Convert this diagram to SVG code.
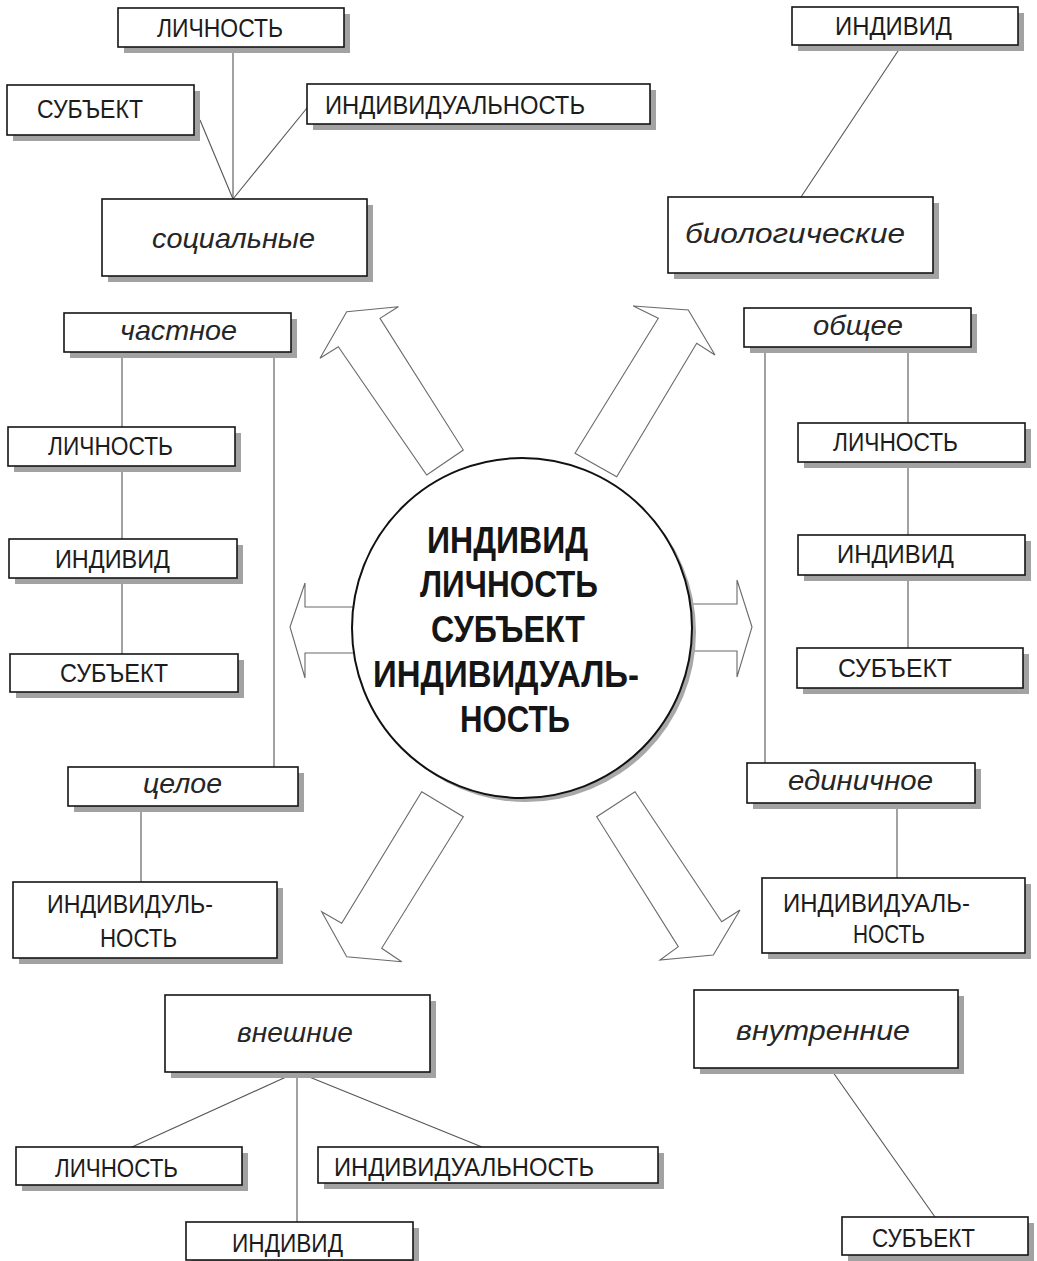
<svg xmlns="http://www.w3.org/2000/svg" width="1037" height="1261" viewBox="0 0 1037 1261">
<style>
.bg{fill:#fff}
.box{fill:#fff;stroke:#141414;stroke-width:1.6}
.sh{fill:#a2a2a2}
.ln{stroke:#555;stroke-width:1.1;fill:none}
.arr{fill:#fff;stroke:#6a6a6a;stroke-width:1.1;stroke-linejoin:miter}
.t{font-family:"Liberation Sans",Arial,sans-serif;font-size:26px;fill:#1c1c1c}
.it{font-family:"Liberation Sans",Arial,sans-serif;font-style:italic;font-size:28px;fill:#262626}
.big{font-family:"Liberation Sans",Arial,sans-serif;font-weight:bold;font-size:37px;fill:#151515}
</style>
<rect class="bg" x="0" y="0" width="1037" height="1261"/>

<g id="connectors">
  <line class="ln" x1="233" y1="47" x2="233" y2="199"/>
  <line class="ln" x1="200" y1="120" x2="233" y2="199"/>
  <line class="ln" x1="307" y1="108" x2="233" y2="199"/>
  <line class="ln" x1="902" y1="45" x2="801" y2="197"/>
  <line class="ln" x1="122" y1="352" x2="122" y2="654"/>
  <line class="ln" x1="274" y1="352" x2="274" y2="767"/>
  <line class="ln" x1="141" y1="806" x2="141" y2="882"/>
  <line class="ln" x1="908" y1="347" x2="908" y2="648"/>
  <line class="ln" x1="765" y1="347" x2="765" y2="763"/>
  <line class="ln" x1="897" y1="803" x2="897" y2="878"/>
  <line class="ln" x1="297" y1="1072" x2="132" y2="1147"/>
  <line class="ln" x1="297" y1="1072" x2="297" y2="1222"/>
  <line class="ln" x1="297" y1="1072" x2="482" y2="1147"/>
  <line class="ln" x1="830" y1="1068" x2="935" y2="1217"/>
</g>

<g id="arrows">
  <polygon class="arr" points="346.7,311.7 398.3,306.7 380,318.3 463.3,450 426.7,475 338.3,346.7 320,358.3"/>
  <polygon class="arr" points="633.3,306 688.3,310 715,355 696.7,343.3 616.7,476.7 575,453.3 658.3,318.3"/>
  <polygon class="arr" points="290,627 305,583 305,607 370,607 370,653 305,653 305,678"/>
  <polygon class="arr" points="752,627 737,580 737,604 680,604 680,651 737,651 737,677"/>
  <polygon class="arr" points="421.7,791.7 463.3,816.7 381.7,948.3 401.7,961.7 346.7,956.7 321.7,911.7 341.7,923.3"/>
  <polygon class="arr" points="635,791.7 721.7,921.7 740,910 713.3,955 660,960 678.3,946.7 596.7,816.7"/>
</g>

<g id="center">
  <circle cx="526" cy="632" r="170" fill="#a8a8a8"/>
  <circle cx="522" cy="628" r="170" fill="#fff" stroke="#111" stroke-width="2"/>
  <text class="big" x="427" y="553" textLength="161" lengthAdjust="spacingAndGlyphs">ИНДИВИД</text>
  <text class="big" x="420" y="597" textLength="178" lengthAdjust="spacingAndGlyphs">ЛИЧНОСТЬ</text>
  <text class="big" x="431" y="642" textLength="154" lengthAdjust="spacingAndGlyphs">СУБЪЕКТ</text>
  <text class="big" x="373" y="687" textLength="266" lengthAdjust="spacingAndGlyphs">ИНДИВИДУАЛЬ-</text>
  <text class="big" x="460" y="732" textLength="110" lengthAdjust="spacingAndGlyphs">НОСТЬ</text>
</g>

<g id="n-tl-lichnost">
  <rect class="sh" x="124" y="14" width="226" height="39"/>
  <rect class="box" x="118" y="8" width="226" height="39"/>
  <text class="t" x="157" y="37" textLength="126" lengthAdjust="spacingAndGlyphs">ЛИЧНОСТЬ</text>
</g>
<g id="n-tl-subekt">
  <rect class="sh" x="13" y="91" width="187" height="50"/>
  <rect class="box" x="7" y="85" width="187" height="50"/>
  <text class="t" x="37" y="118" textLength="106" lengthAdjust="spacingAndGlyphs">СУБЪЕКТ</text>
</g>
<g id="n-tl-individualnost">
  <rect class="sh" x="313" y="90" width="343" height="40"/>
  <rect class="box" x="307" y="84" width="343" height="40"/>
  <text class="t" x="325" y="114" textLength="260" lengthAdjust="spacingAndGlyphs">ИНДИВИДУАЛЬНОСТЬ</text>
</g>
<g id="n-socialnye">
  <rect class="sh" x="108" y="205" width="265" height="77"/>
  <rect class="box" x="102" y="199" width="265" height="77"/>
  <text class="it" x="152" y="248" textLength="163" lengthAdjust="spacingAndGlyphs">социальные</text>
</g>

<g id="n-tr-individ">
  <rect class="sh" x="798" y="13" width="226" height="38"/>
  <rect class="box" x="792" y="7" width="226" height="38"/>
  <text class="t" x="835" y="35" textLength="117" lengthAdjust="spacingAndGlyphs">ИНДИВИД</text>
</g>
<g id="n-biologicheskie">
  <rect class="sh" x="674" y="203" width="265" height="76"/>
  <rect class="box" x="668" y="197" width="265" height="76"/>
  <text class="it" x="685" y="243" textLength="220" lengthAdjust="spacingAndGlyphs">биологические</text>
</g>

<g id="n-chastnoe">
  <rect class="sh" x="70" y="319" width="227" height="39"/>
  <rect class="box" x="64" y="313" width="227" height="39"/>
  <text class="it" x="120" y="340" textLength="117" lengthAdjust="spacingAndGlyphs">частное</text>
</g>
<g id="n-l-lichnost">
  <rect class="sh" x="14" y="433" width="227" height="39"/>
  <rect class="box" x="8" y="427" width="227" height="39"/>
  <text class="t" x="48" y="455" textLength="125" lengthAdjust="spacingAndGlyphs">ЛИЧНОСТЬ</text>
</g>
<g id="n-l-individ">
  <rect class="sh" x="15" y="545" width="228" height="39"/>
  <rect class="box" x="9" y="539" width="228" height="39"/>
  <text class="t" x="55" y="568" textLength="115" lengthAdjust="spacingAndGlyphs">ИНДИВИД</text>
</g>
<g id="n-l-subekt">
  <rect class="sh" x="16" y="660" width="228" height="38"/>
  <rect class="box" x="10" y="654" width="228" height="38"/>
  <text class="t" x="60" y="682" textLength="108" lengthAdjust="spacingAndGlyphs">СУБЪЕКТ</text>
</g>
<g id="n-tseloe">
  <rect class="sh" x="74" y="773" width="230" height="39"/>
  <rect class="box" x="68" y="767" width="230" height="39"/>
  <text class="it" x="143" y="793" textLength="79" lengthAdjust="spacingAndGlyphs">целое</text>
</g>
<g id="n-l-individualnost">
  <rect class="sh" x="19" y="888" width="264" height="76"/>
  <rect class="box" x="13" y="882" width="264" height="76"/>
  <text class="t" x="47" y="913" textLength="166" lengthAdjust="spacingAndGlyphs">ИНДИВИДУЛЬ-</text>
  <text class="t" x="100" y="947" textLength="77" lengthAdjust="spacingAndGlyphs">НОСТЬ</text>
</g>

<g id="n-obshchee">
  <rect class="sh" x="750" y="314" width="227" height="39"/>
  <rect class="box" x="744" y="308" width="227" height="39"/>
  <text class="it" x="813" y="335" textLength="90" lengthAdjust="spacingAndGlyphs">общее</text>
</g>
<g id="n-r-lichnost">
  <rect class="sh" x="804" y="429" width="227" height="39"/>
  <rect class="box" x="798" y="423" width="227" height="39"/>
  <text class="t" x="833" y="451" textLength="125" lengthAdjust="spacingAndGlyphs">ЛИЧНОСТЬ</text>
</g>
<g id="n-r-individ">
  <rect class="sh" x="804" y="541" width="227" height="40"/>
  <rect class="box" x="798" y="535" width="227" height="40"/>
  <text class="t" x="837" y="563" textLength="117" lengthAdjust="spacingAndGlyphs">ИНДИВИД</text>
</g>
<g id="n-r-subekt">
  <rect class="sh" x="803" y="654" width="226" height="40"/>
  <rect class="box" x="797" y="648" width="226" height="40"/>
  <text class="t" x="838" y="677" textLength="114" lengthAdjust="spacingAndGlyphs">СУБЪЕКТ</text>
</g>
<g id="n-edinichnoe">
  <rect class="sh" x="753" y="769" width="228" height="40"/>
  <rect class="box" x="747" y="763" width="228" height="40"/>
  <text class="it" x="788" y="790" textLength="145" lengthAdjust="spacingAndGlyphs">единичное</text>
</g>
<g id="n-r-individualnost">
  <rect class="sh" x="768" y="884" width="263" height="75"/>
  <rect class="box" x="762" y="878" width="263" height="75"/>
  <text class="t" x="783" y="912" textLength="187" lengthAdjust="spacingAndGlyphs">ИНДИВИДУАЛЬ-</text>
  <text class="t" x="853" y="943" textLength="72" lengthAdjust="spacingAndGlyphs">НОСТЬ</text>
</g>

<g id="n-vneshnie">
  <rect class="sh" x="171" y="1001" width="265" height="77"/>
  <rect class="box" x="165" y="995" width="265" height="77"/>
  <text class="it" x="237" y="1042" textLength="116" lengthAdjust="spacingAndGlyphs">внешние</text>
</g>
<g id="n-b-lichnost">
  <rect class="sh" x="22" y="1153" width="226" height="38"/>
  <rect class="box" x="16" y="1147" width="226" height="38"/>
  <text class="t" x="55" y="1177" textLength="123" lengthAdjust="spacingAndGlyphs">ЛИЧНОСТЬ</text>
</g>
<g id="n-b-individ">
  <rect class="sh" x="192" y="1228" width="227" height="38"/>
  <rect class="box" x="186" y="1222" width="227" height="38"/>
  <text class="t" x="232" y="1252" textLength="111" lengthAdjust="spacingAndGlyphs">ИНДИВИД</text>
</g>
<g id="n-b-individualnost">
  <rect class="sh" x="324" y="1153" width="340" height="36"/>
  <rect class="box" x="318" y="1147" width="340" height="36"/>
  <text class="t" x="334" y="1176" textLength="260" lengthAdjust="spacingAndGlyphs">ИНДИВИДУАЛЬНОСТЬ</text>
</g>
<g id="n-vnutrennie">
  <rect class="sh" x="700" y="996" width="264" height="78"/>
  <rect class="box" x="694" y="990" width="264" height="78"/>
  <text class="it" x="736" y="1040" textLength="174" lengthAdjust="spacingAndGlyphs">внутренние</text>
</g>
<g id="n-b-subekt">
  <rect class="sh" x="848" y="1223" width="186" height="38"/>
  <rect class="box" x="842" y="1217" width="186" height="38"/>
  <text class="t" x="872" y="1247" textLength="103" lengthAdjust="spacingAndGlyphs">СУБЪЕКТ</text>
</g>
</svg>
